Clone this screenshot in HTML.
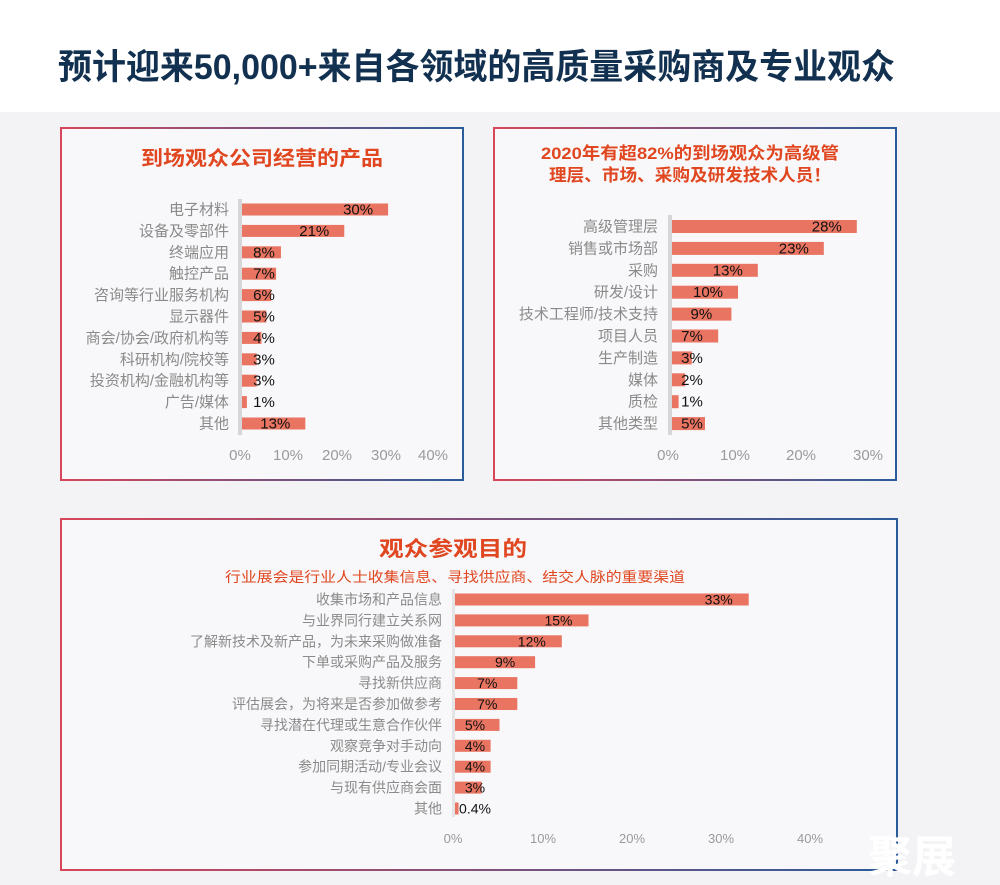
<!DOCTYPE html>
<html><head><meta charset="utf-8"><style>
html,body{margin:0;padding:0;width:1000px;height:885px;overflow:hidden;background:#fff}
svg{display:block}
text{font-family:"Liberation Sans","Noto Sans CJK SC",sans-serif}
.lab{fill:#8a8a8a;font-size:15px;text-anchor:end}
.lab3{fill:#8a8a8a;font-size:14px;text-anchor:end}
.val{fill:#111;font-size:15px;text-anchor:middle}
.val3{fill:#111;font-size:14px;text-anchor:middle}
.tick{fill:#9a9a9a;font-size:15px;text-anchor:middle}
.tit{fill:#e0461f;font-weight:bold;text-anchor:middle}
.bar{fill:#e97461}
</style></head><body>
<svg width="1000" height="885" viewBox="0 0 1000 885">
<defs>
<linearGradient id="g" x1="0" x2="1" y1="0" y2="0"><stop offset="0" stop-color="#d8465a"/><stop offset="1" stop-color="#2a5c9a"/></linearGradient>
</defs>
<rect x="0" y="0" width="1000" height="112" fill="#fff"/>
<rect x="0" y="112" width="1000" height="773" fill="#f3f3f6"/>
<text x="58" y="79" font-size="35" font-weight="bold" fill="#12304f" textLength="837" lengthAdjust="spacingAndGlyphs">预计迎来50,000+来自各领域的高质量采购商及专业观众</text>

<!-- Panel 1 -->
<rect x="61" y="128" width="402" height="352" fill="#f8f8fa" stroke="url(#g)" stroke-width="2"/>
<text class="tit" x="262" y="165" font-size="20" textLength="242" lengthAdjust="spacingAndGlyphs">到场观众公司经营的产品</text>
<rect x="238" y="199" width="4" height="236" fill="#d6d6d8"/>
<g id="p1"></g>
<text class="tick" x="240" y="460">0%</text><text class="tick" x="288" y="460">10%</text><text class="tick" x="337" y="460">20%</text><text class="tick" x="386" y="460">30%</text><text class="tick" x="433" y="460">40%</text>

<!-- Panel 2 -->
<rect x="494" y="128" width="402" height="352" fill="#f8f8fa" stroke="url(#g)" stroke-width="2"/>
<text class="tit" x="690" y="159" font-size="17" textLength="298" lengthAdjust="spacingAndGlyphs">2020年有超82%的到场观众为高级管</text>
<text class="tit" x="690" y="181" font-size="17" textLength="282" lengthAdjust="spacingAndGlyphs">理层、市场、采购及研发技术人员！</text>
<rect x="668" y="215" width="4" height="220" fill="#d6d6d8"/>
<g id="p2"></g>
<text class="tick" x="668" y="460">0%</text><text class="tick" x="735" y="460">10%</text><text class="tick" x="801" y="460">20%</text><text class="tick" x="868" y="460">30%</text>

<!-- Panel 3 -->
<rect x="61" y="519" width="836" height="351" fill="#f8f8fa" stroke="url(#g)" stroke-width="2"/>
<text class="tit" x="453" y="556" font-size="21" textLength="148" lengthAdjust="spacingAndGlyphs">观众参观目的</text>
<text x="455" y="582" font-size="14" fill="#e0461f" text-anchor="middle" textLength="460" lengthAdjust="spacingAndGlyphs">行业展会是行业人士收集信息、寻找供应商、结交人脉的重要渠道</text>
<rect x="452" y="589" width="3" height="228" fill="#e4e4e6"/>
<g id="p3"></g>
<g><text class="tick" style="font-size:13px" x="453" y="843">0%</text><text class="tick" style="font-size:13px" x="543" y="843">10%</text><text class="tick" style="font-size:13px" x="632" y="843">20%</text><text class="tick" style="font-size:13px" x="721" y="843">30%</text><text class="tick" style="font-size:13px" x="810" y="843">40%</text></g>
<text x="868" y="872" font-size="44" font-weight="bold" fill="#ffffff">聚展</text>
</svg>
<script>
function build(id,data,o){
 var g=document.getElementById(id),s='';
 data.forEach(function(d,i){
  var y=o.y0+i*o.dy, w=Math.max(d[1]*o.sc,o.min), end=o.x0+w;
  s+='<text class="'+o.lc+'" x="'+o.lx+'" y="'+(y+5)+'">'+d[0]+'</text>';
  s+='<rect class="bar" x="'+o.x0+'" y="'+(y-o.h/2)+'" width="'+w+'" height="'+o.h+'"/>';
  var c=Math.max(end-30,o.vmin);
  s+='<text class="'+o.vc+'" x="'+c+'" y="'+(y+5)+'">'+d[2]+'</text>';
 });
 g.innerHTML=s;
}
build('p1',[["电子材料",30,"30%"],["设备及零部件",21,"21%"],["终端应用",8,"8%"],["触控产品",7,"7%"],["咨询等行业服务机构",6,"6%"],["显示器件",5,"5%"],["商会/协会/政府机构等",4,"4%"],["科研机构/院校等",3,"3%"],["投资机构/金融机构等",3,"3%"],["广告/媒体",1,"1%"],["其他",13,"13%"]],
 {x0:242,sc:4.87,y0:209.5,dy:21.4,h:12,lx:229,lc:'lab',vc:'val',vmin:264,min:2});
build('p2',[["高级管理层",28,"28%"],["销售或市场部",23,"23%"],["采购",13,"13%"],["研发/设计",10,"10%"],["技术工程师/技术支持",9,"9%"],["项目人员",7,"7%"],["生产制造",3,"3%"],["媒体",2,"2%"],["质检",1,"1%"],["其他类型",5,"5%"]],
 {x0:672,sc:6.6,y0:226.5,dy:21.9,h:13,lx:658,lc:'lab',vc:'val',vmin:692,min:3});
build('p3',[["收集市场和产品信息",33,"33%"],["与业界同行建立关系网",15,"15%"],["了解新技术及新产品，为未来采购做准备",12,"12%"],["下单或采购产品及服务",9,"9%"],["寻找新供应商",7,"7%"],["评估展会，为将来是否参加做参考",7,"7%"],["寻找潜在代理或生意合作伙伴",5,"5%"],["观察竞争对手动向",4,"4%"],["参加同期活动/专业会议",4,"4%"],["与现有供应商会面",3,"3%"],["其他",0.4,"0.4%"]],
 {x0:455,sc:8.9,y0:599.5,dy:20.9,h:12,lx:442,lc:'lab3',vc:'val3',vmin:475,min:2});
</script>
</body></html>
